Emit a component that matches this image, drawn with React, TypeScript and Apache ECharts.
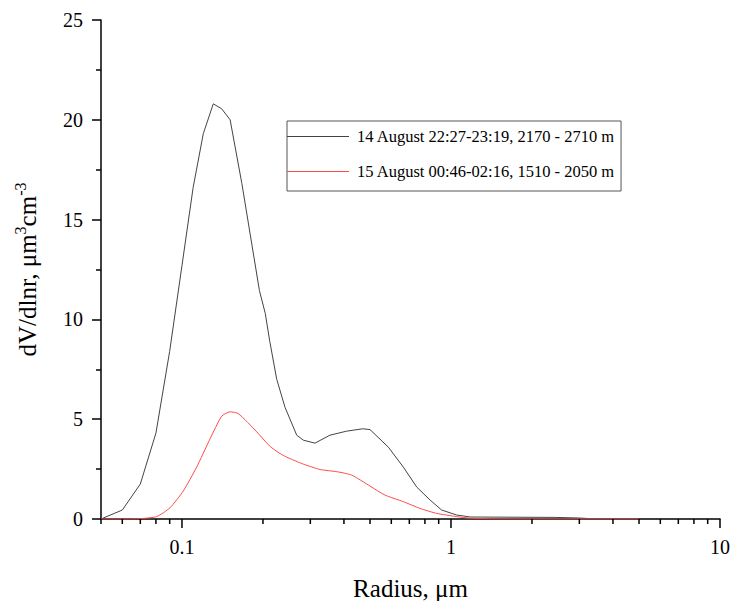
import React, { useEffect, useRef } from "react";
import * as echarts from "echarts";

// ---- data ----
const seriesNames = [
  "14 August 22:27-23:19, 2170 - 2710 m",
  "15 August 00:46-02:16, 1510 - 2050 m",
];

const radiusA = [0.05, 0.06, 0.07, 0.08, 0.09, 0.1, 0.11, 0.12, 0.1307, 0.1405, 0.151, 0.167, 0.194, 0.204, 0.212, 0.225, 0.2415, 0.267, 0.2825, 0.312, 0.355, 0.409, 0.47, 0.5, 0.585, 0.665, 0.746, 0.836, 0.923, 1.05, 1.18, 2.44, 3.0, 3.5];
const valuesA = [0, 0.45, 1.75, 4.3, 8.4, 12.7, 16.6, 19.3, 20.8, 20.55, 20.0, 16.8, 11.45, 10.3, 8.9, 7.0, 5.6, 4.2, 3.95, 3.8, 4.2, 4.4, 4.52, 4.48, 3.6, 2.6, 1.6, 0.95, 0.45, 0.2, 0.1, 0.08, 0.05, 0];

const radiusB = [0.05, 0.06, 0.07, 0.0805, 0.0902, 0.1011, 0.1134, 0.127, 0.1405, 0.151, 0.162, 0.1896, 0.212, 0.2313, 0.245, 0.2825, 0.326, 0.376, 0.4274, 0.5, 0.568, 0.665, 0.767, 0.885, 1.05, 1.177, 1.5, 3.0, 5.0];
const valuesB = [0, 0, 0.02, 0.12, 0.56, 1.4, 2.6, 4.0, 5.15, 5.37, 5.28, 4.37, 3.65, 3.28, 3.1, 2.75, 2.48, 2.37, 2.2, 1.65, 1.2, 0.87, 0.53, 0.28, 0.12, 0.04, 0.01, 0, 0];

const xMajorTicks = [0.1, 1, 10];
const xMinorTicks = [0.05, 0.06, 0.07, 0.08, 0.09, 0.2, 0.3, 0.4, 0.5, 0.6, 0.7, 0.8, 0.9, 2, 3, 4, 5, 6, 7, 8, 9];
const xTickLabels = ["0.1", "1", "10"];

const yTitle = "{a|dV/dlnr, μm}{s|3}{a|cm}{s|-3}";

const FONT = "'Liberation Serif', 'Times New Roman', serif";

function tickSeries(values: number[], len: number) {
  return {
    type: "custom",
    silent: true,
    clip: false,
    z: 10,
    data: values.map((v) => [v, 0]),
    encode: { x: 0, y: 1 },
    renderItem: (_params: any, api: any) => {
      const p = api.coord([api.value(0), 0]);
      return {
        type: "line",
        shape: { x1: p[0], y1: p[1], x2: p[0], y2: p[1] + len },
        style: { stroke: "#000", lineWidth: 1.5 },
      };
    },
  };
}

export default function App() {
  const ref = useRef<HTMLDivElement>(null);
  useEffect(() => {
    if (!ref.current) return;
    const chart = echarts.init(ref.current, null, { renderer: "svg" });
    chart.setOption({
      animation: false,
      backgroundColor: "#fff",
      grid: { left: 101, right: 12, top: 20, bottom: 82, containLabel: false, outerBoundsMode: "none" },
      legend: {
        left: 287,
        top: 121,
        orient: "vertical",
        data: seriesNames,
        icon: "rect",
        itemWidth: 62,
        itemHeight: 1,
        itemGap: 18,
        padding: [7, 6, 11, 0],
        borderColor: "#555",
        borderWidth: 1,
        textStyle: { fontFamily: FONT, fontSize: 16.5, color: "#000", padding: [0, 0, 0, 3] },
      },
      xAxis: {
        type: "log",
        logBase: 10,
        min: 0.05,
        max: 10,
        name: "Radius, μm",
        nameLocation: "middle",
        nameGap: 57,
        nameTextStyle: { fontFamily: FONT, fontSize: 25, color: "#000" },
        axisLine: { show: true, lineStyle: { color: "#000", width: 1.5 } },
        axisTick: { show: false },
        minorTick: { show: false },
        splitLine: { show: false },
        axisLabel: {
          fontFamily: FONT,
          fontSize: 20,
          color: "#000",
          margin: 18,
          showMinLabel: false,
          formatter: (v: number) => {
            const i = xMajorTicks.findIndex((t) => Math.abs(t - v) / t < 1e-6);
            return i >= 0 ? xTickLabels[i] : "";
          },
        },
      },
      yAxis: {
        type: "value",
        min: 0,
        max: 25,
        interval: 5,
        name: yTitle,
        nameLocation: "middle",
        nameGap: 61,
        nameTextStyle: {
          fontFamily: FONT,
          fontSize: 25,
          color: "#000",
          rich: {
            a: { fontFamily: FONT, fontSize: 25, color: "#000", lineHeight: 28, verticalAlign: "bottom" },
            s: { fontFamily: FONT, fontSize: 16, color: "#000", lineHeight: 28, verticalAlign: "top" },
          },
        },
        axisLine: { show: true, lineStyle: { color: "#000", width: 1.5 } },
        axisTick: { show: true, inside: false, length: 9, lineStyle: { color: "#000", width: 1.5 } },
        minorTick: { show: true, splitNumber: 2, length: 5, lineStyle: { color: "#000", width: 1.5 } },
        splitLine: { show: false },
        axisLabel: { fontFamily: FONT, fontSize: 20, color: "#000", margin: 18 },
      },
      series: [
        {
          name: seriesNames[0],
          type: "line",
          symbol: "none",
          data: radiusA.map((r, i) => [r, valuesA[i]]),
          lineStyle: { color: "#444", width: 1 },
          itemStyle: { color: "#444" },
          z: 3,
        },
        {
          name: seriesNames[1],
          type: "line",
          symbol: "none",
          smooth: 0.2,
          data: radiusB.map((r, i) => [r, valuesB[i]]),
          lineStyle: { color: "#ff4a4a", width: 1 },
          itemStyle: { color: "#ff4a4a" },
          z: 4,
        },
        tickSeries(xMajorTicks, 9),
        tickSeries(xMinorTicks, 5),
      ],
    });
    return () => chart.dispose();
  }, []);
  return (
    <div
      ref={ref}
      style={{ position: "fixed", left: 0, top: 0, width: 732, height: 601, background: "#fff" }}
    />
  );
}
